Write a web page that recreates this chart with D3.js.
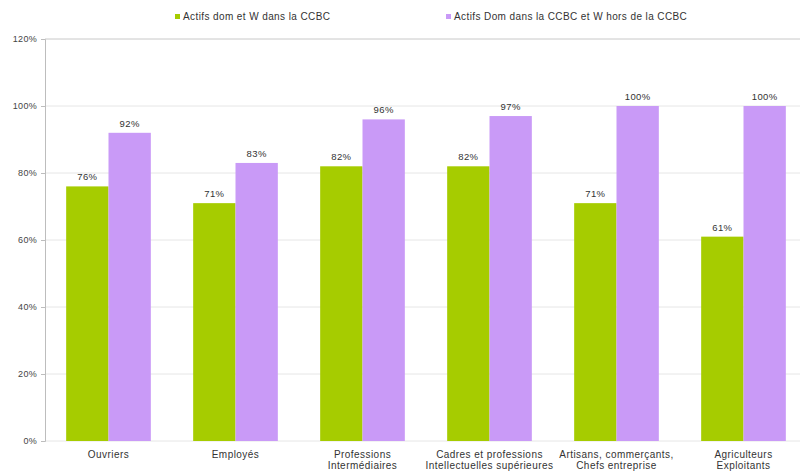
<!DOCTYPE html>
<html>
<head>
<meta charset="utf-8">
<script src="https://cdn.jsdelivr.net/npm/d3@7"></script>
<style>
  body { margin: 0; background: #fff; }
  svg { display: block; font-family: "Liberation Sans", Arial, sans-serif; }
</style>
</head>
<body>
<svg id="chart" width="800" height="475"></svg>
<script>
// Catégories socio-professionnelles (libellés sur deux lignes)
const categories = [
  ["Ouvriers"],
  ["Employés"],
  ["Professions", "Intermédiaires"],
  ["Cadres et professions", "Intellectuelles supérieures"],
  ["Artisans, commerçants,", "Chefs entreprise"],
  ["Agriculteurs", "Exploitants"]
];
const seriesNames = [
  "Actifs dom et W dans la CCBC",
  "Actifs Dom dans la CCBC et W hors de la CCBC"
];
const domEtTravailCCBC = [76, 71, 82, 82, 71, 61];
const domCCBCTravailHors = [92, 83, 96, 97, 100, 100];
const yTicks = [0, 20, 40, 60, 80, 100, 120];
const colors = ["#a6cc00", "#c99af7"];

const svg = d3.select("#chart");
const margin = { left: 45, top: 39, bottom: 441 };

const x0 = d3.scaleBand()
  .domain(d3.range(categories.length))
  .range([margin.left, margin.left + 6 * 127])
  .paddingInner(0)
  .paddingOuter(0);
const x1 = d3.scaleBand()
  .domain([0, 1])
  .range([0, x0.bandwidth()])
  .paddingOuter(0.5)
  .paddingInner(0);
const y = d3.scaleLinear().domain([0, 120]).range([margin.bottom, margin.top]);

// Grille horizontale
svg.append("g")
  .selectAll("line")
  .data(yTicks)
  .join("line")
  .attr("x1", margin.left)
  .attr("x2", 800)
  .attr("y1", d => y(d))
  .attr("y2", d => y(d))
  .attr("stroke", d => d === 120 ? "#c8c8c8" : "#e6e6e6")
  .attr("stroke-width", 1);

// Axe vertical
const yAxis = d3.axisLeft(y)
  .tickValues(yTicks)
  .tickSize(4)
  .tickFormat(d => d + "%");
const ga = svg.append("g").attr("transform", `translate(${margin.left},0)`).call(yAxis);
ga.select(".domain").attr("stroke", "#bdbdbd");
ga.selectAll(".tick line").attr("stroke", "#bdbdbd");
ga.selectAll(".tick text").attr("fill", "#444").attr("font-size", 9)
  .attr("letter-spacing", 0.3)
  .attr("font-family", "Liberation Sans, Arial, sans-serif").attr("x", -8);

// Barres
const series = [domEtTravailCCBC, domCCBCTravailHors];
series.forEach((vals, si) => {
  const g = svg.append("g");
  g.selectAll("rect")
    .data(vals)
    .join("rect")
    .attr("x", (d, i) => x0(i) + x1(si))
    .attr("y", d => y(d))
    .attr("width", x1.bandwidth())
    .attr("height", d => y(0) - y(d))
    .attr("fill", colors[si]);
  g.selectAll("text")
    .data(vals)
    .join("text")
    .attr("x", (d, i) => x0(i) + x1(si) + x1.bandwidth() / 2)
    .attr("y", d => y(d) - 6)
    .attr("text-anchor", "middle")
    .attr("font-size", 9.5)
    .attr("letter-spacing", 0.4)
    .attr("fill", "#333")
    .text(d => d + "%");
});

// Libellés des catégories
const cl = svg.append("g");
categories.forEach((lines, i) => {
  const cx = x0(i) + x0.bandwidth() / 2;
  const t = cl.append("text")
    .attr("x", cx)
    .attr("y", 458)
    .attr("text-anchor", "middle")
    .attr("font-size", 10)
    .attr("letter-spacing", 0.45)
    .attr("fill", "#333");
  lines.forEach((l, j) => {
    t.append("tspan")
      .attr("x", cx)
      .attr("dy", j === 0 ? 0 : 11)
      .text(l);
  });
});

// Légende
const legendX = [175, 446];
seriesNames.forEach((name, i) => {
  const g = svg.append("g").attr("transform", `translate(${legendX[i]},17)`);
  g.append("rect").attr("x", 0).attr("y", -3).attr("width", 5).attr("height", 5).attr("fill", colors[i]);
  g.append("text").attr("x", 8).attr("y", 2.5).attr("font-size", 10)
    .attr("letter-spacing", 0.4).attr("fill", "#333").text(name);
});
</script>
</body>
</html>
